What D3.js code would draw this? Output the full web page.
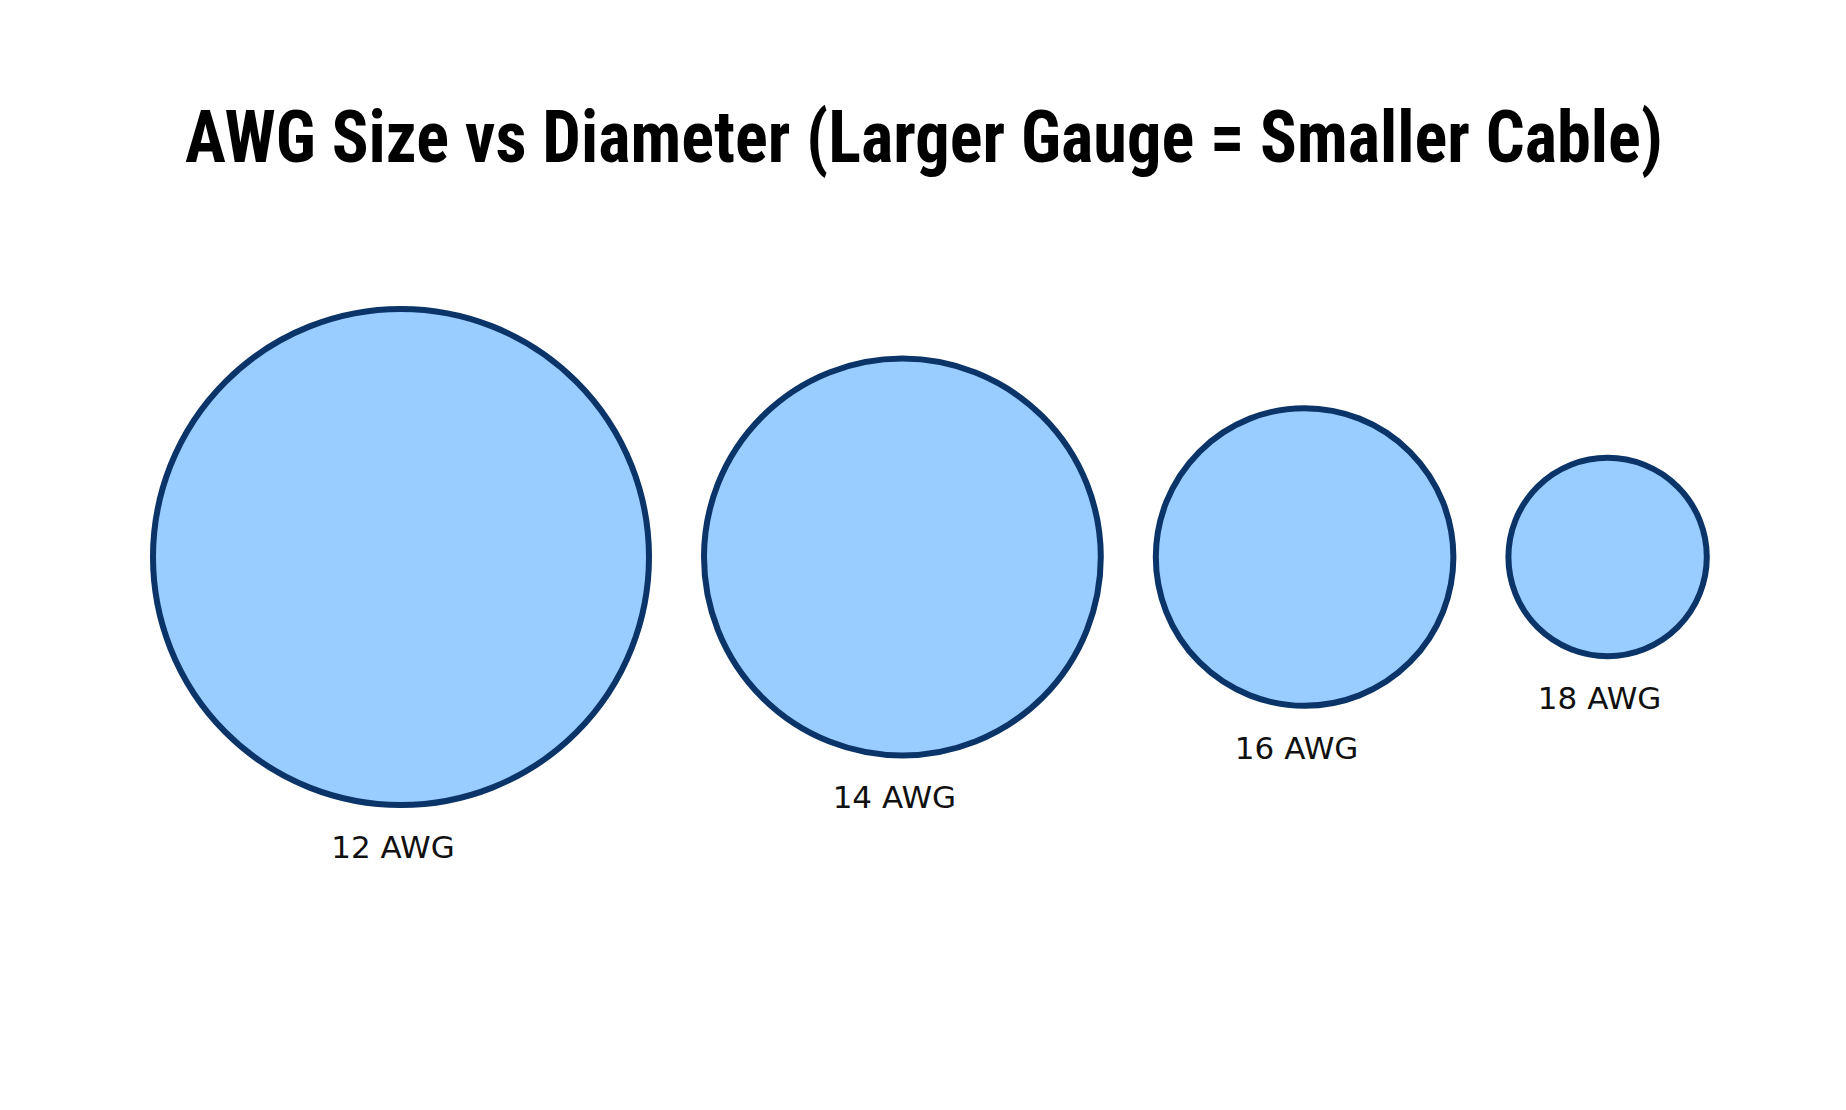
<!DOCTYPE html>
<html><head><meta charset="utf-8">
<script src="https://cdn.jsdelivr.net/npm/d3@7"></script>
<style>body{margin:0;background:#fff}</style></head>
<body><svg id="c" width="1846" height="1110"></svg>
<script>
const labels = ["12 AWG","14 AWG","16 AWG","18 AWG"];
const sizes = [5, 4, 3, 2];
const titleText = "AWG Size vs Diameter (Larger Gauge = Smaller Cable)";

const svg = d3.select("#c");
const r = d3.scaleLinear().domain([0, 5]).range([0, 248]);
const gap = 55, startX = 153, cy = 557;
let acc = startX;
const pos = sizes.map(s => { const cx = acc + r(s); acc = cx + r(s) + gap; return cx; });

svg.append("text").attr("x", 924).attr("y", 162).attr("text-anchor", "middle")
  .attr("font-family", "'Liberation Sans Narrow','Roboto Condensed','DejaVu Sans Condensed',sans-serif")
  .attr("font-weight", "bold").attr("font-size", 72)
  .attr("textLength", 1478).attr("lengthAdjust", "spacingAndGlyphs")
  .text(titleText);

const g = svg.selectAll("g.w").data(sizes).join("g").attr("class", "w");
g.append("circle").attr("cx", (d, i) => pos[i]).attr("cy", cy).attr("r", d => r(d))
  .attr("fill", "#99ccff").attr("stroke", "#0b3468").attr("stroke-width", 6);
g.append("text").attr("x", (d, i) => pos[i] - 8).attr("y", d => cy + r(d) + 53)
  .attr("text-anchor", "middle").attr("font-family", "'DejaVu Sans',sans-serif")
  .attr("font-size", 31).attr("fill", "#111").text((d, i) => labels[i]);
</script></body></html>
